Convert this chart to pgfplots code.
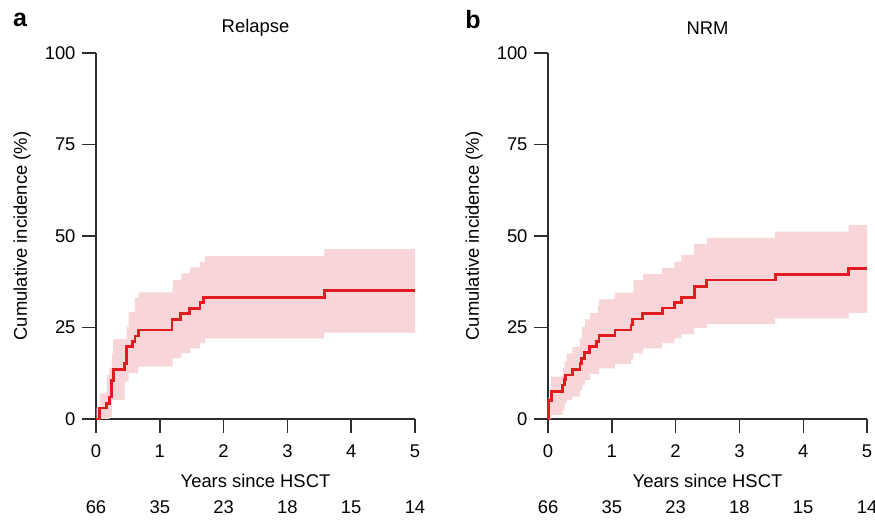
\documentclass[border=0pt]{standalone}
\usepackage{fontspec}
\setmainfont{Liberation Sans}
\usepackage{pgfplots}
\pgfplotsset{compat=1.18}
\usepgfplotslibrary{fillbetween}

\definecolor{cirline}{RGB}{226,27,33}
\definecolor{ciband}{RGB}{247,213,216}
\definecolor{axgray}{RGB}{45,45,45}

\pgfplotsset{
  cif/.style={
    scale only axis,
    width=159.5bp, height=183bp,
    xmin=0, xmax=5, ymin=0, ymax=100,
    axis lines*=left,
    axis line style={axgray, line width=0.7bp},
    every tick/.style={axgray, line width=0.7bp},
    tick align=outside,
    major tick length=7bp,
    xtick={0,1,2,3,4,5},
    ytick={0,25,50,75,100},
    /pgf/number format/assume math mode=true,
    tick label style={font=\fontsize{9.2bp}{11bp}\selectfont},
    xticklabel style={yshift=-2.5bp},
    xlabel={Years since HSCT},
    ylabel={Cumulative incidence (\%)},
    xlabel style={at={(axis description cs:0.5,0)}, anchor=center, yshift=-31bp},
    ylabel style={at={(axis description cs:-0.232,0.5)}, anchor=center},
    title style={at={(axis description cs:0.5,1)}, anchor=center, yshift=6.5bp},
    clip=false,
  },
  band/.style={fill=ciband, draw=none},
  step/.style={const plot, draw=cirline, line width=1.4bp, line join=miter},
}

\begin{document}
\fontsize{9.2bp}{11bp}\selectfont
\begin{tikzpicture}
\path (0,0) rectangle (437.5bp,256bp);
\node[font=\fontsize{12.5bp}{14bp}\selectfont\bfseries] at (10bp,246bp) {a};
\node[font=\fontsize{12.5bp}{14bp}\selectfont\bfseries] at (236.5bp,246bp) {b};

% relapse
\begin{axis}[cif, at={(48bp,46.5bp)}, anchor=south west, title={Relapse}]
\addplot[const plot, draw=none, name path=aup] coordinates {
  (0,0) (0.01,3) (0.06,7) (0.17,12) (0.21,14) (0.25,17.9) (0.27,21.8)
  (0.48,25.2) (0.51,29.3) (0.61,33) (0.67,34.6) (1.20,38) (1.34,39.8)
  (1.47,41.4) (1.63,43) (1.71,44.5) (3.58,46.4) (5,46.4)
};
\addplot[const plot, draw=none, name path=alo] coordinates {
  (0,0) (0.21,0.6) (0.25,5.2) (0.45,10.2) (0.51,12.5) (0.66,14.3)
  (1.20,16.6) (1.34,18) (1.47,19.3) (1.63,20.7) (1.71,22) (3.58,23.6) (5,23.6)
};
\addplot[band] fill between[of=aup and alo];
\addplot[step] coordinates {
  (0,0) (0.05,3.0) (0.17,4.3) (0.21,6.0) (0.24,10.6) (0.27,13.6) (0.45,15.2)
  (0.48,19.7) (0.57,21.1) (0.61,22.7) (0.66,24.3) (1.19,27.2) (1.33,28.9)
  (1.46,30.2) (1.63,31.8) (1.69,33.2) (3.58,35.0) (5,35.0)
};
\node at (axis cs:0,0) [yshift=-44bp] {66};
\node at (axis cs:1,0) [yshift=-44bp] {35};
\node at (axis cs:2,0) [yshift=-44bp] {23};
\node at (axis cs:3,0) [yshift=-44bp] {18};
\node at (axis cs:4,0) [yshift=-44bp] {15};
\node at (axis cs:5,0) [yshift=-44bp] {14};
\end{axis}

% NRM
\begin{axis}[cif, at={(274bp,46.5bp)}, anchor=south west, title={NRM},
  xticklabel style={overlay}]
\addplot[const plot, draw=none, name path=bup] coordinates {
  (0,0) (0.01,6) (0.05,11.6) (0.23,13.8) (0.26,15.7) (0.29,17.9) (0.38,19.7)
  (0.50,22) (0.53,25.2) (0.58,27.2) (0.66,29) (0.78,30.9) (0.80,32.7)
  (1.05,34.5) (1.34,38) (1.49,39.6) (1.79,41.2) (1.98,43) (2.09,44.8)
  (2.29,47.8) (2.49,49.5) (3.56,51.2) (4.71,53) (5,53)
};
\addplot[const plot, draw=none, name path=blo] coordinates {
  (0,0) (0.05,1.1) (0.23,2.5) (0.26,4.3) (0.29,5.2) (0.38,6.1) (0.50,7.9)
  (0.53,9.3) (0.58,10.7) (0.66,12.3) (0.80,13.8) (1.05,15.0) (1.30,16.3)
  (1.34,17.9) (1.49,19.3) (1.79,20.7) (1.98,22) (2.09,23.2) (2.29,24.8)
  (2.49,26) (3.56,27.5) (4.71,29) (5,29)
};
\addplot[band] fill between[of=bup and blo];
\addplot[step] coordinates {
  (0,0) (0.01,5) (0.05,7.5) (0.23,9.3) (0.26,10.7) (0.28,12) (0.38,13.6)
  (0.50,15.2) (0.53,16.6) (0.57,18.2) (0.65,19.7) (0.76,21.1) (0.80,22.8)
  (1.05,24.3) (1.30,25.7) (1.33,27.3) (1.48,28.9) (1.79,30.3) (1.98,31.8)
  (2.09,33.2) (2.29,36.3) (2.49,38) (3.56,39.5) (4.71,41.2) (5,41.2)
};
\node at (axis cs:0,0) [yshift=-44bp] {66};
\node at (axis cs:1,0) [yshift=-44bp] {35};
\node at (axis cs:2,0) [yshift=-44bp] {23};
\node at (axis cs:3,0) [yshift=-44bp] {18};
\node at (axis cs:4,0) [yshift=-44bp] {15};
\node[overlay] at (axis cs:5,0) [yshift=-44bp] {14};
\end{axis}
\end{tikzpicture}
\end{document}
